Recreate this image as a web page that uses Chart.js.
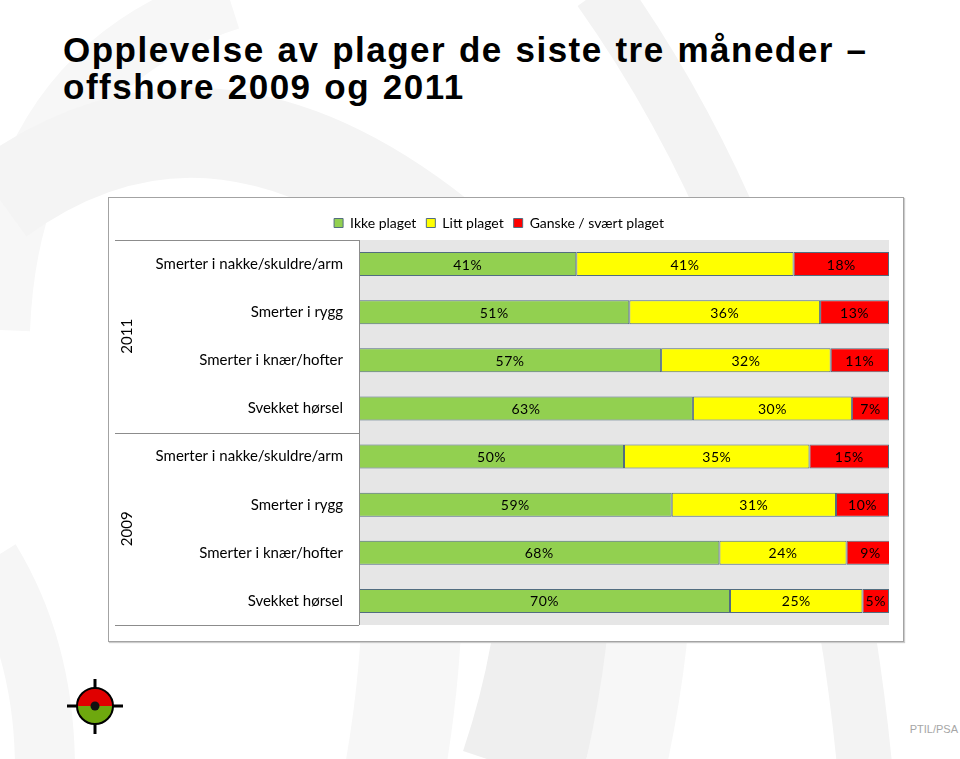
<!DOCTYPE html>
<html>
<head>
<meta charset="utf-8">
<script src="https://cdn.jsdelivr.net/npm/chart.js@4"></script>
<style>
  html, body { margin: 0; padding: 0; background: #fff; }
  #page { position: relative; width: 960px; height: 759px; overflow: hidden; background: #fff; }
  #bg { position: absolute; left: 0; top: 0; }
  #title {
    position: absolute; left: 63px; top: 31px; margin: 0;
    font-family: "Liberation Sans", Arial, sans-serif;
    font-weight: bold; font-size: 35px; line-height: 37px; letter-spacing: 1.5px; word-spacing: 1.5px; color: #000;
  }
  #frame {
    position: absolute; left: 108px; top: 197px; width: 794px; height: 443px;
    border: 1px solid #a3a3a3; background: #fff; box-shadow: 1px 1px 1px #ccc;
  }
  #myChart { display: block; }
  #logo { position: absolute; left: 60px; top: 672px; }
  #foot {
    position: absolute; right: 2px; top: 723px;
    font-family: "Liberation Sans", Arial, sans-serif; font-size: 11px; color: #a6a6a6;
  }
</style>
</head>
<body>
<div id="page">
  <svg id="bg" width="960" height="759">
    <g fill="none" stroke-linecap="butt">
      <path d="M 0,330 Q 10,70 230,0" stroke="#f7f7f7" stroke-width="60"/>
      <path d="M 0,200 Q 220,40 470,260" stroke="#f4f4f4" stroke-width="90"/>
      <path d="M 600,-10 Q 820,300 865,770" stroke="#f3f3f3" stroke-width="55"/>
      <path d="M -10,560 Q 45,650 45,770" stroke="#f6f6f6" stroke-width="60"/>
      <path d="M 330,260 Q 450,450 395,770" stroke="#f7f7f7" stroke-width="100"/>
      <path d="M 470,260 Q 620,470 520,770" stroke="#efefef" stroke-width="120"/>
      <path d="M 600,300 Q 690,480 625,770" stroke="#f7f7f7" stroke-width="80"/>
    </g>
  </svg>
  <h1 id="title">Opplevelse av plager de siste tre måneder –<br>offshore 2009 og 2011</h1>
  <div id="frame"><canvas id="myChart" width="794" height="443"></canvas></div>
  <svg id="logo" width="70" height="70">
    <g transform="translate(35,34)">
      <line x1="-28" y1="0" x2="28" y2="0" stroke="#000" stroke-width="3"/>
      <line x1="0" y1="-27" x2="0" y2="28" stroke="#000" stroke-width="3"/>
      <path d="M -18,0 A 18,18 0 0 1 18,0 Z" fill="#e00000"/>
      <path d="M -18,0 A 18,18 0 0 0 18,0 Z" fill="#6ea80e"/>
      <circle r="18" fill="none" stroke="#000" stroke-width="2"/>
      <circle r="4.5" fill="#111"/>
    </g>
  </svg>
  <div id="foot">PTIL/PSA</div>
</div>
<script>
var categories = [
    "Smerter i nakke/skuldre/arm", "Smerter i rygg", "Smerter i knær/hofter", "Svekket hørsel",
    "Smerter i nakke/skuldre/arm", "Smerter i rygg", "Smerter i knær/hofter", "Svekket hørsel"
];
var groups = ["2011", "2009"];
var groupSize = 4;
var seriesNames = ["Ikke plaget", "Litt plaget", "Ganske / svært plaget"];
var ikkePlaget = [41, 51, 57, 63, 50, 59, 68, 70];
var littPlaget = [41, 36, 32, 30, 35, 31, 24, 25];
var ganskePlaget = [18, 13, 11, 7, 15, 10, 9, 5];
var colors = ["#92d050", "#ffff00", "#ff0000"];

var labelFont = "Lato, 'Liberation Sans', sans-serif";

// grey plot background
var plotBackground = {
    id: "plotBackground",
    beforeDatasetsDraw: function (chart) {
        var a = chart.chartArea, ctx = chart.ctx;
        ctx.save();
        ctx.fillStyle = "#e6e6e6";
        ctx.fillRect(a.left + 1, a.top, a.right - a.left - 1, a.bottom - a.top);
        ctx.restore();
    }
};

// left frame: group lines and year labels
var groupAxis = {
    id: "groupAxis",
    afterDraw: function (chart) {
        var ctx = chart.ctx, a = chart.chartArea, y = chart.scales.y;
        var band = (y.bottom - y.top) / categories.length;
        ctx.save();
        ctx.strokeStyle = "#8c8c8c";
        ctx.lineWidth = 1;
        ctx.beginPath();
        ctx.moveTo(a.left + 0.5, a.top);
        ctx.lineTo(a.left + 0.5, a.bottom);
        ctx.moveTo(6, Math.round(a.top) + 0.5);
        ctx.lineTo(a.left, Math.round(a.top) + 0.5);
        ctx.stroke();
        groups.forEach(function (g, i) {
            var top = y.getPixelForValue(i * groupSize) - band / 2;
            var bottom = y.getPixelForValue((i + 1) * groupSize - 1) + band / 2;
            ctx.beginPath();
            ctx.moveTo(6, Math.round(bottom) + 0.5);
            ctx.lineTo(a.left, Math.round(bottom) + 0.5);
            ctx.stroke();
            ctx.save();
            ctx.translate(18, (top + bottom) / 2);
            ctx.rotate(-Math.PI / 2);
            ctx.fillStyle = "#000";
            ctx.font = "15px " + labelFont;
            ctx.textAlign = "center";
            ctx.textBaseline = "middle";
            ctx.fillText(g, 0, 0);
            ctx.restore();
        });
        ctx.restore();
    }
};

// percent labels in the middle of each segment
var barLabels = {
    id: "barLabels",
    afterDatasetsDraw: function (chart) {
        var ctx = chart.ctx;
        ctx.save();
        ctx.font = "14px " + labelFont;
        ctx.letterSpacing = "0.5px";
        ctx.fillStyle = "#000";
        ctx.textAlign = "center";
        ctx.textBaseline = "middle";
        chart.data.datasets.forEach(function (ds, i) {
            chart.getDatasetMeta(i).data.forEach(function (bar, j) {
                ctx.fillText(ds.data[j] + "%", (bar.x + bar.base) / 2, bar.y + 1);
            });
        });
        ctx.restore();
    }
};

var ctx = document.getElementById("myChart").getContext("2d");
var chart = new Chart(ctx, {
    type: "bar",
    data: {
        labels: categories,
        datasets: [ikkePlaget, littPlaget, ganskePlaget].map(function (values, i) {
            return {
                label: seriesNames[i],
                data: values,
                backgroundColor: colors[i],
                borderColor: "#526d80",
                borderWidth: 1,
                borderSkipped: false,
                categoryPercentage: 1,
                barPercentage: 0.5
            };
        })
    },
    options: {
        indexAxis: "y",
        responsive: false,
        maintainAspectRatio: false,
        animation: { duration: 0 },
        layout: { padding: { left: 0, right: 14, top: 8, bottom: 16 } },
        scales: {
            x: { stacked: true, min: 0, max: 100, display: false },
            y: {
                stacked: true,
                grid: { display: false, drawTicks: false },
                border: { display: false },
                ticks: { color: "#000", padding: 16, font: { family: labelFont, size: 15 } },
                afterFit: function (scale) {
                    scale.width = 250;
                    scale.paddingTop = 0;
                    scale.paddingBottom = 0;
                }
            }
        },
        plugins: {
            legend: {
                position: "top",
                labels: {
                    color: "#000",
                    boxWidth: 9,
                    boxHeight: 9,
                    padding: 10,
                    font: { family: labelFont, size: 14 }
                }
            },
            tooltip: { enabled: false }
        }
    },
    plugins: [plotBackground, groupAxis, barLabels]
});
</script>
</body>
</html>
